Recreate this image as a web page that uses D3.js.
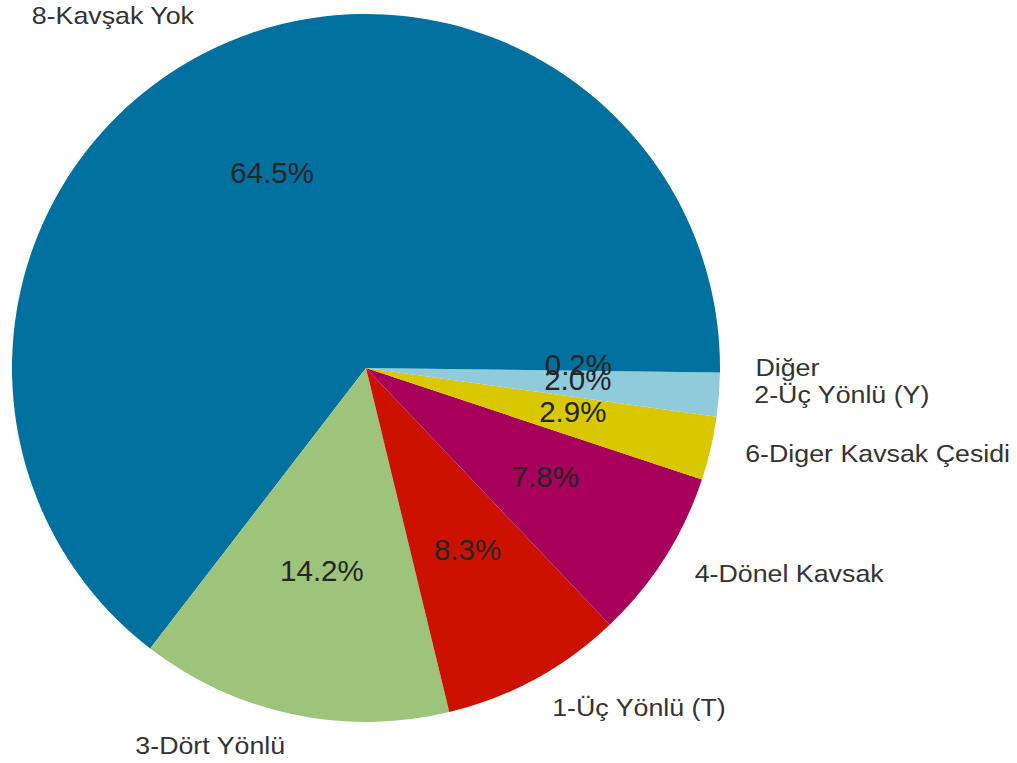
<!DOCTYPE html>
<html>
<head>
<meta charset="utf-8">
<script src="https://cdn.jsdelivr.net/npm/d3@7"></script>
<style>
  html, body { margin: 0; padding: 0; background: #fff; }
  svg { display: block; }
</style>
</head>
<body>
<svg id="chart" width="1017" height="763"></svg>
<script>
// Junction types and their share of records (percent)
const categories = [
  "8-Kavşak Yok",
  "3-Dört Yönlü",
  "1-Üç Yönlü (T)",
  "4-Dönel Kavsak",
  "6-Diger Kavsak Çesidi",
  "2-Üç Yönlü (Y)",
  "Diğer"
];
const shares = [64.5, 14.2, 8.3, 7.8, 2.9, 2.0, 0.2];
const palette = ["#00709f", "#9dc47b", "#cb1100", "#a7005a", "#d9c700", "#90cbdc"];

const width = 1017, height = 763;
const cx = 366, cy = 368, radius = 354;

const svg = d3.select("#chart");
const g = svg.append("g").attr("transform", `translate(${cx},${cy})`);

// Start at 3 o'clock and run counter-clockwise
const pie = d3.pie()
  .sort(null)
  .value(d => d.value)
  .startAngle(Math.PI / 2)
  .endAngle(Math.PI / 2 - 2 * Math.PI);

const data = categories.map((c, i) => ({ name: c, value: shares[i] }));
const arcs = pie(data);

const color = d3.scaleOrdinal().domain(categories).range(palette);
const arc = d3.arc().innerRadius(0).outerRadius(radius);

g.selectAll("path.slice")
  .data(arcs)
  .join("path")
  .attr("class", "slice")
  .attr("d", arc)
  .attr("fill", d => color(d.data.name));

const mid = d => (d.startAngle + d.endAngle) / 2;
const px = (d, k) => k * radius * Math.sin(mid(d));
const py = (d, k) => -k * radius * Math.cos(mid(d));

// Percent labels inside the slices
g.selectAll("text.pct")
  .data(arcs)
  .join("text")
  .attr("class", "pct")
  .attr("x", d => px(d, 0.6))
  .attr("y", d => py(d, 0.6) - 5)
  .attr("text-anchor", "middle")
  .attr("dominant-baseline", "central")
  .attr("font-family", "Liberation Sans, Arial, sans-serif")
  .attr("font-size", 29.5)
  .attr("fill", "#262626")
  .text(d => d.data.value.toFixed(1) + "%");

// Category labels outside the rim
g.selectAll("text.lbl")
  .data(arcs)
  .join("text")
  .attr("class", "lbl")
  .attr("transform", d => `translate(${px(d, 1.1)},${py(d, 1.1) - 3}) scale(1.116,1)`)
  .attr("text-anchor", d => px(d, 1.1) >= 0 ? "start" : "end")
  .attr("dominant-baseline", "central")
  .attr("font-family", "Liberation Sans, Arial, sans-serif")
  .attr("font-size", 24)
  .attr("fill", "#333333")
  .text(d => d.data.name);
</script>
</body>
</html>
